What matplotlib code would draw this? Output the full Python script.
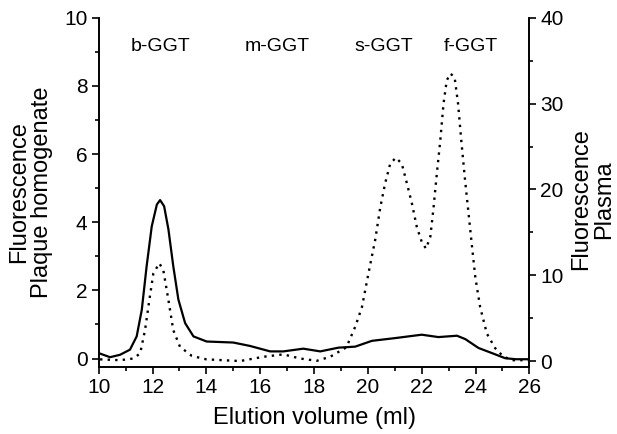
import numpy as np
import matplotlib
matplotlib.use('Agg')
import matplotlib.pyplot as plt
from matplotlib.ticker import MultipleLocator

plt.rcParams['font.family'] = ['Liberation Sans', 'DejaVu Sans']

# plaque homogenate (solid, left axis)
vol_plaque = [10.0, 10.42, 10.79, 11.16, 11.41, 11.6, 11.78, 11.97, 12.16, 12.28,
              12.43, 12.59, 12.77, 12.96, 13.21, 13.52, 14.01, 15.0, 15.62, 16.37,
              16.86, 17.6, 18.23, 18.91, 19.53, 20.15, 21.01, 22.0, 22.62, 23.31,
              23.62, 24.11, 24.61, 25.1, 25.5, 26.0]
fl_plaque = [0.16, 0.04, 0.11, 0.26, 0.65, 1.43, 2.71, 3.88, 4.52, 4.65,
             4.47, 3.79, 2.71, 1.73, 1.04, 0.65, 0.5, 0.47, 0.37, 0.21,
             0.21, 0.29, 0.21, 0.32, 0.35, 0.52, 0.6, 0.7, 0.63, 0.67,
             0.57, 0.31, 0.16, 0.01, -0.02, -0.02]

# plasma (dotted, right axis)
vol_plasma = [10.05, 10.79, 11.29, 11.54, 11.72, 11.88, 12.03, 12.25, 12.4, 12.59,
              12.77, 13.02, 13.46, 14.0, 15.25, 16.12, 16.86, 17.48, 18.1, 18.6,
              19.2, 19.53, 19.78, 20.02, 20.27, 20.46, 20.64, 20.83, 21.04, 21.26,
              21.45, 21.64, 21.82, 22.0, 22.16, 22.32, 22.44, 22.56, 22.69, 22.81,
              22.93, 23.06, 23.22, 23.35, 23.47, 23.6, 23.74, 23.87, 23.99, 24.17,
              24.42, 24.73, 25.04, 25.4, 25.78, 26.0]
fl_plasma = [0.2, 0.1, 0.3, 0.9, 3.6, 7.1, 10.2, 11.4, 10.6, 7.1,
             3.6, 1.66, 0.6, 0.2, 0.0, 0.5, 0.78, 0.3, 0.03, 0.5,
             1.6, 4.0, 6.3, 10.2, 14.1, 17.9, 20.7, 23.0, 23.7, 23.0,
             20.7, 18.3, 15.6, 13.9, 13.1, 14.5, 17.9, 21.8, 25.7, 30.0,
             32.7, 33.5, 33.1, 30.0, 25.7, 21.4, 17.2, 13.3, 9.8, 6.3,
             3.2, 1.5, 0.5, 0.1, 0.1, 0.1]

labels = ['b-GGT', 'm-GGT', 's-GGT', 'f-GGT']
label_x = [12.28, 16.63, 20.6, 23.84]

fig = plt.figure(figsize=(6.17, 4.34), dpi=100)
ax = fig.add_axes([0.160, 0.155, 0.698, 0.804])
ax2 = ax.twinx()

ax.plot(vol_plaque, fl_plaque, color='black', lw=1.6)
ax2.plot(vol_plasma, fl_plasma, color='black', lw=1.7, linestyle=(0, (1, 2.2)))

ax.set_xlim(10, 26)
ax.set_ylim(-0.24, 10)
ax2.set_ylim(-0.66, 40)

ax.xaxis.set_major_locator(MultipleLocator(2))
ax.xaxis.set_minor_locator(MultipleLocator(1))
ax.yaxis.set_major_locator(MultipleLocator(2))
ax.yaxis.set_minor_locator(MultipleLocator(1))
ax2.yaxis.set_major_locator(MultipleLocator(10))
ax2.yaxis.set_minor_locator(MultipleLocator(5))

for a in (ax, ax2):
    a.spines['top'].set_visible(False)
    a.tick_params(which='major', direction='out', length=5, width=1.2, labelsize=15, pad=3)
    a.tick_params(which='minor', direction='out', length=3, width=1.2)
    for s in a.spines.values():
        s.set_linewidth(1.2)

for t, x in zip(labels, label_x):
    ax.text(x, 9.17, t, ha='center', va='center', fontsize=14)

ax.set_xlabel('Elution volume (ml)', fontsize=17, va='center')
ax.xaxis.set_label_coords(0.5, -0.147)
ax.set_ylabel('Fluorescence\nPlaque homogenate', fontsize=17, va='center', linespacing=1.05)
ax.yaxis.set_label_coords(-0.158, 0.5)
ax2.set_ylabel('Fluorescence\nPlasma', fontsize=17, va='center', linespacing=1.05)
ax2.yaxis.set_label_coords(1.146, 0.48)

fig.savefig('out.png', dpi=100)
